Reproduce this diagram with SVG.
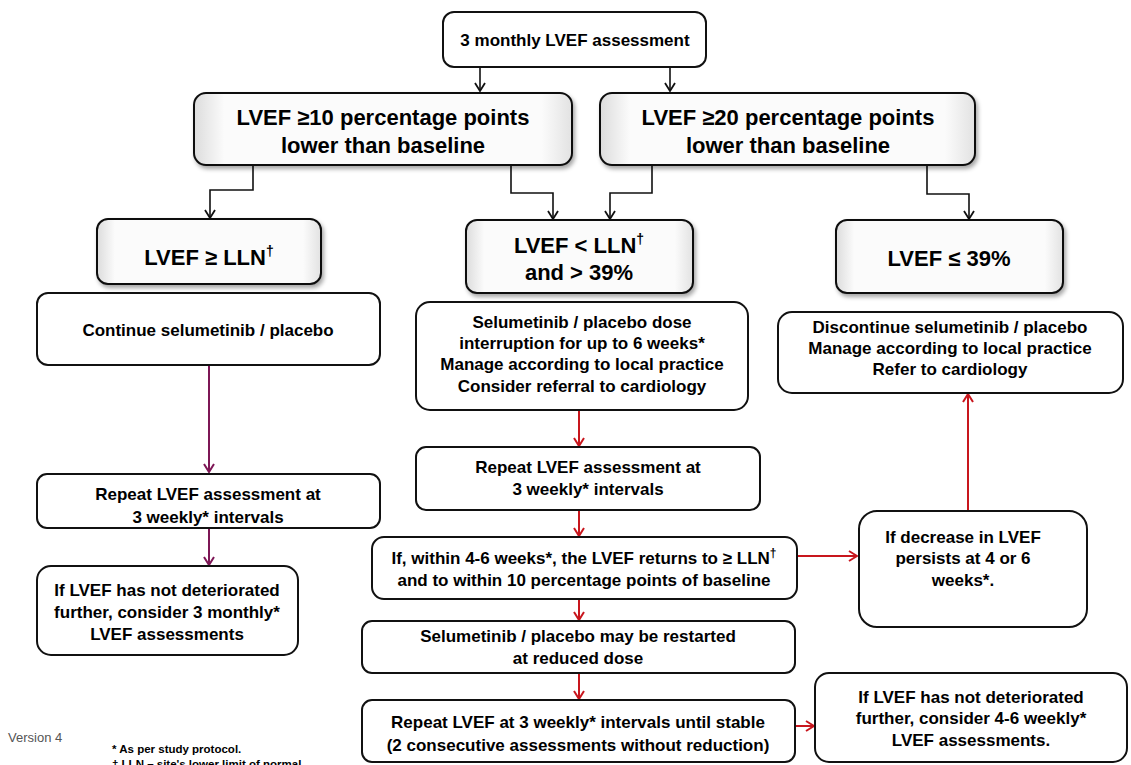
<svg xmlns="http://www.w3.org/2000/svg" width="1131" height="765" viewBox="0 0 1131 765">
<style>
text{font-family:"Liberation Sans",Arial,sans-serif;font-weight:bold;fill:#000;text-anchor:middle}
.t15{font-size:17px}
.t20{font-size:22px}
.t19{font-size:22px}
.box{fill:#fff;stroke:#111;stroke-width:2}
.sh{fill:url(#g);stroke:#111;stroke-width:2;filter:url(#ds)}
.k{fill:none;stroke:#111;stroke-width:1.6}
.r{fill:none;stroke:#c8161d;stroke-width:2}
.p{fill:none;stroke:#7d1655;stroke-width:2}
.foot{font-size:11.5px;text-anchor:start}
</style>
<defs>
<linearGradient id="g" x1="0" y1="0" x2="1" y2="0">
<stop offset="0" stop-color="#dcdcdc"/>
<stop offset="0.08" stop-color="#fbfbfb"/>
<stop offset="0.92" stop-color="#fbfbfb"/>
<stop offset="1" stop-color="#e2e2e2"/>
</linearGradient>
<filter id="ds" x="-5%" y="-10%" width="115%" height="130%">
<feDropShadow dx="2" dy="3" stdDeviation="2" flood-color="#000" flood-opacity="0.35"/>
</filter>
<marker id="ak" viewBox="0 0 12 12" refX="11" refY="6" markerWidth="12" markerHeight="12" markerUnits="userSpaceOnUse" orient="auto"><path d="M3,1 L11,6 L3,11" fill="none" stroke="#111" stroke-width="1.8"/></marker>
<marker id="ar" viewBox="0 0 12 12" refX="11" refY="6" markerWidth="12" markerHeight="12" markerUnits="userSpaceOnUse" orient="auto"><path d="M3,1 L11,6 L3,11" fill="none" stroke="#c8161d" stroke-width="2"/></marker>
<marker id="ap" viewBox="0 0 12 12" refX="11" refY="6" markerWidth="12" markerHeight="12" markerUnits="userSpaceOnUse" orient="auto"><path d="M3,1 L11,6 L3,11" fill="none" stroke="#7d1655" stroke-width="2"/></marker>
</defs>

<g id="connectors">
<path class="k" d="M480,67 V91" marker-end="url(#ak)"/>
<path class="k" d="M670,67 V91" marker-end="url(#ak)"/>
<path class="k" d="M253,166 V190 H210 V218" marker-end="url(#ak)"/>
<path class="k" d="M511,166 V193 H553 V219" marker-end="url(#ak)"/>
<path class="k" d="M652,166 V193 H610 V219" marker-end="url(#ak)"/>
<path class="k" d="M927,166 V194 H969 V219" marker-end="url(#ak)"/>
<path class="p" d="M209,365 V472" marker-end="url(#ap)"/>
<path class="p" d="M209,528 V565" marker-end="url(#ap)"/>
<path class="r" d="M579,410 V446" marker-end="url(#ar)"/>
<path class="r" d="M579,510 V536" marker-end="url(#ar)"/>
<path class="r" d="M579,599 V620" marker-end="url(#ar)"/>
<path class="r" d="M579,673 V699" marker-end="url(#ar)"/>
<path class="r" d="M797,556 H857" marker-end="url(#ar)"/>
<path class="r" d="M968,511 V394" marker-end="url(#ar)"/>
<path class="r" d="M795,726 H814" marker-end="url(#ar)"/>
</g>

<g id="n-top"><rect class="box" x="443" y="12" width="263" height="55" rx="11"/><text class="t15" x="575" y="46">3 monthly LVEF assessment</text></g>

<g id="n-b10"><rect class="sh" x="194" y="93" width="378" height="72" rx="12"/><text class="t20" x="383" y="125">LVEF ≥10 percentage points</text><text class="t20" x="383" y="153">lower than baseline</text></g>
<g id="n-b20"><rect class="sh" x="600" y="93" width="375" height="72" rx="12"/><text class="t20" x="788" y="125">LVEF ≥20 percentage points</text><text class="t20" x="788" y="153">lower than baseline</text></g>

<g id="n-lln"><rect class="sh" x="97" y="219" width="224" height="65" rx="11"/><text class="t19" x="209" y="265">LVEF ≥ LLN<tspan font-size="14" dy="-9">†</tspan></text></g>
<g id="n-mid"><rect class="sh" x="466" y="220" width="227" height="73" rx="11"/><text class="t19" x="579" y="253">LVEF &lt; LLN<tspan font-size="14" dy="-9">†</tspan></text><text class="t19" x="579" y="280">and &gt; 39%</text></g>
<g id="n-39"><rect class="sh" x="836" y="220" width="227" height="73" rx="11"/><text class="t19" x="949" y="266">LVEF ≤ 39%</text></g>

<g id="n-continue"><rect class="box" x="37" y="293" width="343" height="72" rx="11"/><text class="t15" x="208" y="336">Continue selumetinib / placebo</text></g>
<g id="n-rep-l"><rect class="box" x="37" y="474" width="343" height="54" rx="10"/><text class="t15" x="208" y="500">Repeat LVEF assessment at</text><text class="t15" x="208" y="523">3 weekly* intervals</text></g>
<g id="n-notdet-l"><rect class="box" x="37" y="566" width="261" height="89" rx="14"/><text class="t15" x="167" y="596">If LVEF has not deteriorated</text><text class="t15" x="167" y="618">further, consider 3 monthly*</text><text class="t15" x="167" y="640">LVEF assessments</text></g>

<g id="n-interrupt"><rect class="box" x="416" y="302" width="332" height="108" rx="14"/><text class="t15" x="582" y="328">Selumetinib / placebo dose</text><text class="t15" x="582" y="349">interruption for up to 6 weeks*</text><text class="t15" x="582" y="370">Manage according to local practice</text><text class="t15" x="582" y="392">Consider referral to cardiology</text></g>
<g id="n-rep-m"><rect class="box" x="416" y="447" width="344" height="63" rx="10"/><text class="t15" x="588" y="473">Repeat LVEF assessment at</text><text class="t15" x="588" y="495">3 weekly* intervals</text></g>
<g id="n-within"><rect class="box" x="372" y="537" width="425" height="62" rx="12"/><text class="t15" x="584" y="564">If, within 4-6 weeks*, the LVEF returns to ≥ LLN<tspan font-size="12" dy="-7">†</tspan></text><text class="t15" x="584" y="586">and to within 10 percentage points of baseline</text></g>
<g id="n-restart"><rect class="box" x="362" y="621" width="433" height="52" rx="10"/><text class="t15" x="578" y="642">Selumetinib / placebo may be restarted</text><text class="t15" x="578" y="664">at reduced dose</text></g>
<g id="n-stable"><rect class="box" x="362" y="700" width="433" height="62" rx="10"/><text class="t15" x="578" y="728">Repeat LVEF at 3 weekly* intervals until stable</text><text class="t15" x="578" y="751">(2 consecutive assessments without reduction)</text></g>

<g id="n-discontinue"><rect class="box" x="778" y="312" width="345" height="81" rx="14"/><text class="t15" x="950" y="333">Discontinue selumetinib / placebo</text><text class="t15" x="950" y="354">Manage according to local practice</text><text class="t15" x="950" y="375">Refer to cardiology</text></g>
<g id="n-decrease"><rect class="box" x="859" y="511" width="228" height="116" rx="18"/><text class="t15" x="963" y="543">If decrease in LVEF</text><text class="t15" x="963" y="564">persists at 4 or 6</text><text class="t15" x="963" y="586">weeks*.</text></g>
<g id="n-notdet-r"><rect class="box" x="815" y="673" width="312" height="89" rx="14"/><text class="t15" x="971" y="703">If LVEF has not deteriorated</text><text class="t15" x="971" y="724">further, consider 4-6 weekly*</text><text class="t15" x="971" y="746">LVEF assessments.</text></g>

<g id="footnotes">
<text class="foot" x="8" y="742" style="font-weight:normal;fill:#555;font-size:13px">Version 4</text>
<text class="foot" x="112" y="753">* As per study protocol.</text>
<text class="foot" x="112" y="768">† LLN – site's lower limit of normal</text>
</g>
</svg>
